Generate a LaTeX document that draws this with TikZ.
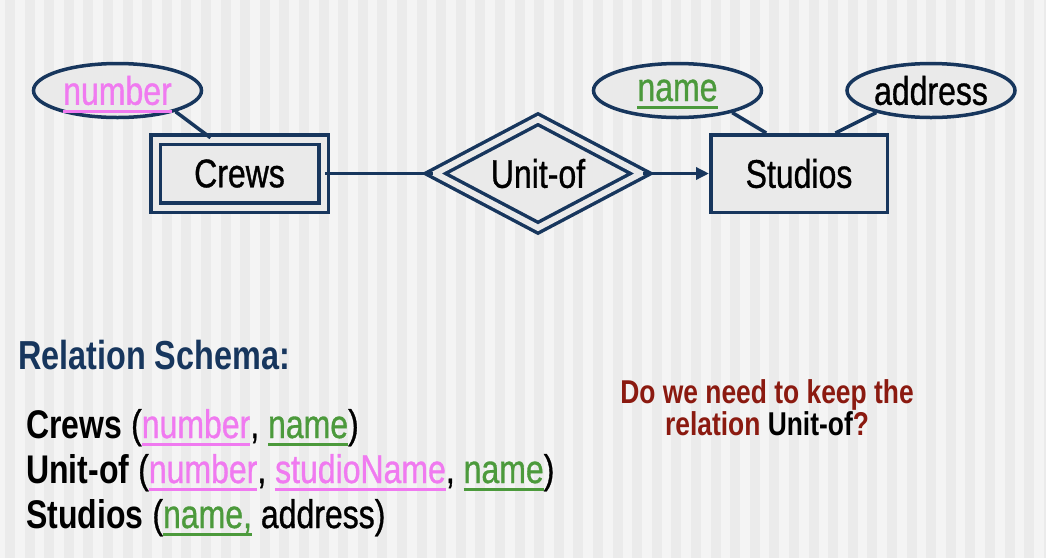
\documentclass[tikz,border=0pt]{standalone}
\usepackage{fontspec}
\setmainfont{Liberation Sans}[FakeStretch = 0.8, UprightFeatures = {FakeBold = 0.8}]
\usetikzlibrary{shapes.geometric, arrows.meta}

\definecolor{navy}{HTML}{17365D}
\definecolor{keypink}{HTML}{F07AF0}
\definecolor{keygreen}{HTML}{4C9A3C}
\definecolor{darkred}{HTML}{8B1A10}
\definecolor{boxgray}{HTML}{EAEAEA}
\definecolor{stripelight}{HTML}{F4F4F4}
\definecolor{stripedark}{HTML}{EBEBEB}

\newcommand{\keyline}[1]{\setbox0\hbox{#1}\rlap{\smash{\rule[-0.2em]{\wd0}{0.08em}}}\box0}
\newcommand{\pinkkey}[1]{{\color{keypink}\keyline{#1}}}
\newcommand{\greenkey}[1]{{\color{keygreen}\keyline{#1}}}

\begin{document}
\begin{tikzpicture}[
        x = 1pt, y = -1pt,
        line join = miter,
        entity/.style = {draw = navy, line width = 3.5pt, fill = boxgray, inner sep = 0pt, font = \fontsize{40}{48}\selectfont},
        weak/.style = {entity, double = boxgray, double distance = 6pt},
        attr/.style = {entity, ellipse, inner ysep = -10pt, minimum width = 168pt, minimum height = 54pt},
        link/.style = {draw = navy, line width = 3.5pt},
        row/.style = {anchor = base west, inner sep = 0pt, font = \fontsize{40}{48}\selectfont},
        ask/.style = {anchor = base, inner sep = 0pt, text = darkred, font = \fontsize{33}{40}\selectfont\bfseries}
    ]
        \useasboundingbox (0, 0) rectangle (1046, 558);
        \fill [stripelight] (0, 0) rectangle (1046, 558);
        \foreach \i in {0, ..., 53}
            \fill [stripedark] ({5 + 19.6 * \i}, 0) rectangle +(10, 558);

        \draw
            (117.5, 90.5) node (num) [attr] {\pinkkey{number}}
            (239.5, 173.5) node (crews) [weak, minimum width = 168pt, minimum height = 68pt] {Crews}
            (538, 173.5) node (unitof) [weak, diamond, aspect = 1.89, minimum width = 207pt, minimum height = 110pt] {Unit-of}
            (799, 173.5) node (studios) [entity, minimum width = 176.5pt, minimum height = 77.5pt] {Studios}
            (677.5, 90.5) node (sname) [attr] {\greenkey{name}}
            (931, 90.5) node (saddr) [attr] {address}

            (num.-20) edge [link] (crews.129)
            (crews) edge [link] (unitof)
            (unitof) edge [link, -{Triangle[length = 13pt, width = 12pt]}] (studios)
            (sname.-22) edge [link] (studios.129)
            (saddr.-158) edge [link] (studios.48)
        ;

        \node (schemahead) [row, text = navy, font = \fontsize{40.5}{48}\selectfont\bfseries] at (18, 369) {Relation Schema:};
        \node (crewsrow) [row] at (26, 438) {\textbf{Crews} (\pinkkey{number}, \greenkey{name})};
        \node (unitrow) [row] at (26, 483) {\textbf{Unit-of} (\pinkkey{number}, \pinkkey{studioName}, \greenkey{name})};
        \node (studiosrow) [row] at (26, 528) {\textbf{Studios} (\greenkey{name,} address)};

        \node (question1) [ask] at (767, 403) {Do we need to keep the};
        \node (question2) [ask] at (767, 435) {relation \textcolor{black}{Unit-of}?};
    \end{tikzpicture}
\end{document}
